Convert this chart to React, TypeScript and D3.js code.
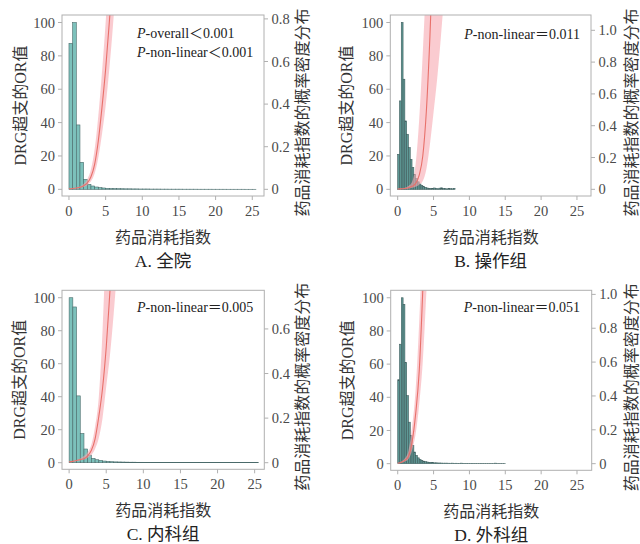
import React from "react";
import * as d3 from "d3";

const FONT = "'Liberation Serif','Times New Roman','Noto Sans CJK SC',serif";

// ---------- data ----------
const xTicks = [0, 5, 10, 15, 20, 25];
const leftTicks = [0, 20, 40, 60, 80, 100];
const rightTicksA = [0, 0.2, 0.4, 0.6, 0.8];
const rightTicksB = [0, 0.2, 0.4, 0.6, 0.8, 1.0];
const rightTicksC = [0, 0.2, 0.4, 0.6];
const rightTicksD = [0, 0.2, 0.4, 0.6, 0.8, 1.0];

// histogram heights (relative, peak = 100), bins start at 0
const histA = [87.5, 100, 38.6, 16.2, 6.0, 3.0, 2.0, 1.4, 1.0, 0.8, 0.6, 0.5, 0.45, 0.4, 0.35, 0.3, 0.3, 0.25, 0.25, 0.2, 0.2, 0.2, 0.15, 0.15, 0.15, 0.12, 0.12, 0.1, 0.1, 0.1, 0.1, 0.08, 0.08, 0.08, 0.08, 0.06, 0.06, 0.06, 0.06, 0.05, 0.05, 0.05, 0.05, 0.04, 0.04, 0.04, 0.04, 0.04, 0.03, 0.03, 0.03];
const histB = [21, 53, 100, 66, 41, 33, 25, 18, 13, 9, 6.5, 4.5, 3.2, 2.2, 1.6, 1.2, 0.8, 0.6, 0.5, 0.4, 0.8, 0.5, 0.3, 0.7, 0.9, 0.6, 0.4, 0.2, 0.5, 0.4, 0.3, 0.6];
const histC = [100, 94.4, 40.5, 17.7, 8.3, 4.6, 2.6, 1.8, 1.4, 1.0, 0.8, 0.6, 0.5, 0.45, 0.4, 0.35, 0.3, 0.3, 0.25, 0.25, 0.2, 0.2, 0.2, 0.15, 0.15, 0.15, 0.12, 0.12, 0.1, 0.1, 0.1, 0.1, 0.08, 0.08, 0.08, 0.08, 0.06, 0.06, 0.06, 0.06, 0.05, 0.05, 0.05, 0.05, 0.04, 0.04, 0.04, 0.04, 0.03, 0.03, 0.03];
const histD = [50.6, 72, 100, 96, 61, 41, 25, 17, 11, 7, 5, 3.5, 2.5, 2, 1.5, 1.2, 1.0, 0.8, 0.7, 0.6, 0.5, 0.5, 0.4, 0.4, 0.35, 0.3, 0.3, 0.3, 0.25, 0.25, 0.3, 0.2, 0.25, 0.2, 0.2, 0.3, 0.2, 0.15, 0.2, 0.15, 0.15, 0.2, 0.1, 0.15, 0.1, 0.1, 0.15, 0.1, 0.1, 0.1, 0.08, 0.1, 0.08, 0.08, 0.3, 0.08, 0.06, 0.06, 0.06, 0.1];
const binWidthA = 0.5;
const binWidthB = 0.25;
const binWidthC = 0.5;
const binWidthD = 0.25;
const peakDensityA = 0.783;
const peakDensityB = 1.049;
const peakDensityC = 0.74;
const peakDensityD = 0.98;

// OR curve with 95% CI
const curveXA = [0, 0.5, 1, 1.5, 2, 2.5, 3, 3.5, 4, 4.5, 5, 5.5, 6, 6.5];
const orA = [0.3, 0.5, 0.8, 1.2, 2.2, 3.8, 7.5, 15, 29, 49, 72, 100, 130, 165];
const upperA = [0.3, 0.6, 1.0, 1.7, 3.2, 6, 12, 24, 44, 70, 100, 135, 175, 220];
const lowerA = [0.3, 0.4, 0.6, 0.9, 1.5, 2.5, 4.8, 9.5, 19, 33, 50, 72, 98, 130];

const curveXB = [0, 0.5, 1, 1.5, 2, 2.5, 3, 3.5, 4, 4.5, 5, 5.5, 6, 6.5, 7];
const orB = [0.2, 0.3, 0.5, 0.9, 1.8, 3.4, 8.5, 20, 47, 92, 150, 220, 300, 400, 520];
const upperB = [0.3, 0.5, 0.9, 2, 4.4, 15, 42, 82, 130, 190, 260, 340, 430, 540, 660];
const lowerB = [0.1, 0.2, 0.3, 0.5, 0.9, 1.6, 2.8, 5, 12, 27, 46, 66, 90, 118, 150];

const curveXC = [0, 0.5, 1, 1.5, 2, 2.5, 3, 3.5, 4, 4.5, 5, 5.5, 6, 6.5, 7];
const orC = [0.5, 0.8, 1.3, 1.9, 2.4, 4.2, 7.5, 14.5, 28, 45, 70, 104, 140, 185, 240];
const upperC = [0.6, 1, 1.6, 2.6, 4, 6.3, 11, 22, 40, 80, 140, 210, 280, 360, 450];
const lowerC = [0.4, 0.6, 1.0, 1.4, 2, 3, 4.8, 8.5, 15, 27, 46, 65, 90, 120, 155];

const curveXD = [0, 0.5, 1, 1.5, 2, 2.5, 3, 3.5, 4, 4.5, 5];
const orD = [0.2, 0.8, 2, 4.3, 13, 30, 56, 105, 160, 230, 310];
const upperD = [0.3, 1.2, 3.2, 8, 22, 45, 86, 140, 210, 290, 380];
const lowerD = [0.1, 0.5, 1.3, 2.8, 8, 18, 36, 62, 104, 150, 210];

const titles = ["A. 全院", "B. 操作组", "C. 内科组", "D. 外科组"];
const pTexts = [
  ["-overall＜0.001", "-non-linear＜0.001"],
  ["-non-linear＝0.011"],
  ["-non-linear＝0.005"],
  ["-non-linear＝0.051"],
];
const xTitle = "药品消耗指数";
const yTitle = "DRG超支的OR值";
const y2Title = "药品消耗指数的概率密度分布";

// ---------- layout ----------
const panels = [
  { left: 62, top: 15, width: 202, height: 181, xDomain: [-0.95, 26.6], hist: histA, bw: binWidthA, peak: peakDensityA, rTicks: rightTicksA, cx: curveXA, c: orA, lo: lowerA, hi: upperA, title: titles[0], p: pTexts[0], pAnchor: "start", pX: 75, pY: 23, yTitleDx: -42, y2TitleDx: 38.5, fill: "#7cc1bb", stroke: "#4a6a6a" },
  { left: 390.3, top: 15, width: 200.7, height: 181, xDomain: [-1.03, 26.96], hist: histB, bw: binWidthB, peak: peakDensityB, rTicks: rightTicksB, cx: curveXB, c: orB, lo: lowerB, hi: upperB, title: titles[1], p: pTexts[1], pAnchor: "end", pX: 189.7, pY: 23.5, yTitleDx: -43.5, y2TitleDx: 40.3, fill: "#5f9996", stroke: "#3e5c5c" },
  { left: 62, top: 290.3, width: 202.3, height: 179, xDomain: [-0.96, 26.3], hist: histC, bw: binWidthC, peak: peakDensityC, rTicks: rightTicksC, cx: curveXC, c: orC, lo: lowerC, hi: upperC, title: titles[2], p: pTexts[2], pAnchor: "end", pX: 191.3, pY: 22, yTitleDx: -42.5, y2TitleDx: 38.5, fill: "#7cc1bb", stroke: "#4a6a6a" },
  { left: 390.7, top: 290.3, width: 201, height: 180, xDomain: [-0.98, 27.05], hist: histD, bw: binWidthD, peak: peakDensityD, rTicks: rightTicksD, cx: curveXD, c: orD, lo: lowerD, hi: upperD, title: titles[3], p: pTexts[3], pAnchor: "end", pX: 189.3, pY: 22, yTitleDx: -43.5, y2TitleDx: 39.8, fill: "#5f9996", stroke: "#3e5c5c" },
];

const Y_DOMAIN = [-4, 104.5];
const AXIS = "#b0b0b0";
const TICKTXT = "#4a4a4a";

function Panel({ cfg, idx }: { cfg: any; idx: number }) {
  const { left, top, width, height } = cfg;
  const right = left + width;
  const bottom = top + height;
  const xs = d3.scaleLinear().domain(cfg.xDomain).range([left, right]);
  const ys = d3.scaleLinear().domain(Y_DOMAIN).range([bottom, top]);
  const yr = d3
    .scaleLinear()
    .domain([(Y_DOMAIN[0] * cfg.peak) / 100, (Y_DOMAIN[1] * cfg.peak) / 100])
    .range([bottom, top]);

  const pts = cfg.cx.map((x: number, i: number) => ({ x, c: cfg.c[i], lo: cfg.lo[i], hi: cfg.hi[i] }));
  const area = d3
    .area<any>()
    .x((d) => xs(d.x))
    .y0((d) => ys(d.lo))
    .y1((d) => ys(d.hi))
    .curve(d3.curveMonotoneX);
  const line = d3
    .line<any>()
    .x((d) => xs(d.x))
    .y((d) => ys(d.c))
    .curve(d3.curveMonotoneX);
  const clipId = `clip${idx}`;

  return (
    <g>
      <defs>
        <clipPath id={clipId}>
          <rect x={left} y={top} width={width} height={height} />
        </clipPath>
      </defs>
      {/* histogram */}
      <g clipPath={`url(#${clipId})`}>
        {cfg.hist.map((v: number, i: number) => {
          const x0 = xs(i * cfg.bw);
          const x1 = xs((i + 1) * cfg.bw);
          return (
            <rect
              key={i}
              x={x0}
              y={ys(v)}
              width={x1 - x0}
              height={ys(0) - ys(v)}
              fill={cfg.fill}
              stroke={cfg.stroke}
              strokeWidth={0.6}
            />
          );
        })}
        <path d={area(pts) || ""} fill="#f7a9b0" fillOpacity={0.6} stroke="none" />
        <path d={line(pts) || ""} fill="none" stroke="#e8706a" strokeWidth={1.1} />
      </g>
      {/* box */}
      <rect x={left} y={top} width={width} height={height} fill="none" stroke={AXIS} strokeWidth={1} />
      {/* left axis */}
      {leftTicks.map((t) => (
        <g key={`l${t}`}>
          <line x1={left - 4} x2={left} y1={ys(t)} y2={ys(t)} stroke={AXIS} />
          <text x={left - 7} y={ys(t)} dy="0.35em" textAnchor="end" fontSize={14.5} fill={TICKTXT} fontFamily={FONT}>
            {t}
          </text>
        </g>
      ))}
      {/* right axis */}
      {cfg.rTicks.map((t: number) => (
        <g key={`r${t}`}>
          <line x1={right} x2={right + 4} y1={yr(t)} y2={yr(t)} stroke={AXIS} />
          <text x={right + 7.5} y={yr(t)} dy="0.35em" textAnchor="start" fontSize={14.5} fill={TICKTXT} fontFamily={FONT}>
            {t === 0 ? "0" : t.toFixed(1)}
          </text>
        </g>
      ))}
      {/* bottom axis */}
      {xTicks.map((t) => (
        <g key={`x${t}`}>
          <line x1={xs(t)} x2={xs(t)} y1={bottom} y2={bottom + 4} stroke={AXIS} />
          <text x={xs(t)} y={bottom + 19.5} textAnchor="middle" fontSize={14.5} fill={TICKTXT} fontFamily={FONT}>
            {t}
          </text>
        </g>
      ))}
      {/* titles */}
      <text x={(left + right) / 2} y={bottom + 47} textAnchor="middle" fontSize={16} fill="#333" fontFamily={FONT}>
        {xTitle}
      </text>
      <text x={(left + right) / 2} y={bottom + 71} textAnchor="middle" fontSize={17.5} fill="#222" fontFamily={FONT}>
        {cfg.title}
      </text>
      <text
        transform={`translate(${left + cfg.yTitleDx},${(top + bottom) / 2}) rotate(-90)`}
        textAnchor="middle"
        dy="0.35em"
        fontSize={16}
        fill="#333"
        fontFamily={FONT}
      >
        {yTitle}
      </text>
      <text
        transform={`translate(${right + cfg.y2TitleDx},${(top + bottom) / 2 + 7}) rotate(-90)`}
        textAnchor="middle"
        dy="0.35em"
        fontSize={16}
        fill="#333"
        fontFamily={FONT}
      >
        {y2Title}
      </text>
      {/* p-values */}
      {cfg.p.map((s: string, i: number) => (
        <text
          key={`p${i}`}
          x={left + cfg.pX}
          y={top + cfg.pY + i * 18.5}
          textAnchor={cfg.pAnchor}
          fontSize={14}
          fill="#222"
          fontFamily={FONT}
        >
          <tspan fontStyle="italic">P</tspan>
          {s}
        </text>
      ))}
    </g>
  );
}

export default function App() {
  return (
    <svg
      width={640}
      height={544}
      viewBox="0 0 640 544"
      style={{ position: "absolute", left: 0, top: 0, background: "#fff" }}
    >
      <rect x={0} y={0} width={640} height={544} fill="#fff" />
      {panels.map((p, i) => (
        <Panel key={i} cfg={p} idx={i} />
      ))}
    </svg>
  );
}
